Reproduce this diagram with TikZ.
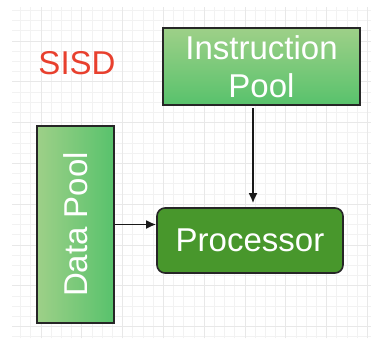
\documentclass[tikz,border=0pt]{standalone}
\usepackage{fontspec}
\setmainfont{Liberation Sans}
\usepackage{xcolor}
\usetikzlibrary{arrows.meta}

\definecolor{poolLight}{HTML}{9ED088}
\definecolor{poolDark}{HTML}{58C26C}
\definecolor{procGreen}{HTML}{48972C}
\definecolor{sisdRed}{HTML}{E8402E}

\begin{document}
\begin{tikzpicture}[
  x=1pt,y=-1pt,
  font=\fontsize{33}{38}\selectfont,
  gridminor/.style={line width=0.4pt,black!5},
  gridmajor/.style={line width=0.5pt,black!9},
  ipool/.style={rectangle,draw=black!85,line width=1.6pt,top color=poolLight,bottom color=poolDark,
    minimum width=197pt,minimum height=77pt,inner sep=0pt,align=center,text=white},
  dpool/.style={rectangle,draw=black!85,line width=1.6pt,left color=poolLight,right color=poolDark,
    minimum width=77pt,minimum height=197pt,inner sep=0pt,text=white},
  proc/.style={rectangle,rounded corners=8pt,draw=black!85,line width=1.6pt,fill=procGreen,
    minimum width=186pt,minimum height=65pt,inner sep=0pt,text=white},
  flow/.style={-{Latex[length=10pt,width=9pt]},line width=1.8pt,black!90},
  title/.style={text=sisdRed}
]

%%%%%%%%%%%%%%%%%%%%%%%%%%%%%%%%%%%%%%%%%%%%%%%%%%%%
% Background and grid
%%%%%%%%%%%%%%%%%%%%%%%%%%%%%%%%%%%%%%%%%%%%%%%%%%%%
\useasboundingbox[fill=white] (0,0) rectangle (371,340);
\begin{scope}
\clip (12,7) rectangle (371,338);
\draw[gridminor] (12,7) grid[xstep=10.2pt,ystep=10.2pt] (371,338);
\draw[gridmajor] (12,7) grid[xstep=40.8pt,ystep=40.8pt] (371,338);
\end{scope}

%%%%%%%%%%%%%%%%%%%%%%%%%%%%%%%%%%%%%%%%%%%%%%%%%%%%
% Blocks
%%%%%%%%%%%%%%%%%%%%%%%%%%%%%%%%%%%%%%%%%%%%%%%%%%%%
\node[title] (sisd) at (77,63) {SISD};

\node[ipool] (instr) at (261.5,66.5) {Instruction\\Pool};
\node[dpool] (data) at (75.5,224.5) {\rotatebox{90}{Data Pool}};
\node[proc] (cpu) at (250,240.5) {Processor};

%%%%%%%%%%%%%%%%%%%%%%%%%%%%%%%%%%%%%%%%%%%%%%%%%%%%
% Connectors
%%%%%%%%%%%%%%%%%%%%%%%%%%%%%%%%%%%%%%%%%%%%%%%%%%%%
\draw[flow] ([xshift=3pt,yshift=-2pt]instr.south -| cpu.north) -- ([xshift=3pt,yshift=4pt]cpu.north);
\draw[flow] (data.east) -- (data.east -| cpu.west);

\end{tikzpicture}
\end{document}
